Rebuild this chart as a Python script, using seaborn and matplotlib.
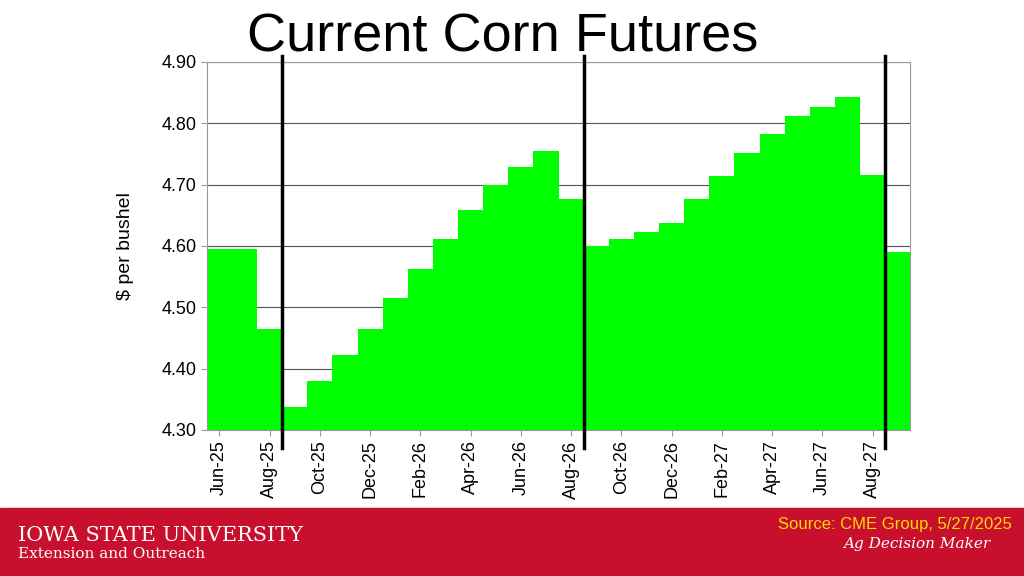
import matplotlib
matplotlib.use('Agg')
import matplotlib.pyplot as plt
import seaborn as sns
import pandas as pd

plt.rcParams['font.family'] = 'Liberation Sans'

# Monthly values, Jun-25 through Sep-27
months = ['Jun-25', 'Jul-25', 'Aug-25', 'Sep-25', 'Oct-25', 'Nov-25', 'Dec-25',
          'Jan-26', 'Feb-26', 'Mar-26', 'Apr-26', 'May-26', 'Jun-26', 'Jul-26',
          'Aug-26', 'Sep-26', 'Oct-26', 'Nov-26', 'Dec-26', 'Jan-27', 'Feb-27',
          'Mar-27', 'Apr-27', 'May-27', 'Jun-27', 'Jul-27', 'Aug-27', 'Sep-27']
prices = [4.595, 4.595, 4.465, 4.338, 4.380, 4.423, 4.465,
          4.515, 4.563, 4.612, 4.658, 4.700, 4.728, 4.755,
          4.677, 4.600, 4.612, 4.623, 4.637, 4.676, 4.714,
          4.752, 4.782, 4.812, 4.827, 4.842, 4.716, 4.590]
# crop-year dividers (between Aug and Sep)
dividers = [2.5, 14.5, 26.5]

df = pd.DataFrame({'month': months, 'price': prices})

fig = plt.figure(figsize=(10.24, 5.76), dpi=100)
ax = fig.add_axes([0.202, 0.2535, 0.687, 0.639])

sns.barplot(data=df, x='month', y='price', color='#00FF00', width=1.0,
            saturation=1, ax=ax, bottom=0)
ax.set_ylim(4.30, 4.90)
ax.set_xlim(-0.5, len(months) - 0.5)
ax.set_yticks([4.30, 4.40, 4.50, 4.60, 4.70, 4.80, 4.90])
ax.set_yticklabels([f'{v:.2f}' for v in ax.get_yticks()], fontsize=13)
ax.set_xticks(range(0, len(months), 2))
ax.set_xticklabels(months[::2], rotation=90, fontsize=13)
ax.grid(axis='y', color='#555555', linewidth=0.8)
ax.set_axisbelow(True)
for s in ax.spines.values():
    s.set_color('#999999')
ax.tick_params(length=4, color='#999999')
ax.set_xlabel('')
ax.set_ylabel('$ per bushel', fontsize=14, labelpad=20)

for d in dividers:
    ax.plot([d, d], [4.27, 4.91], color='black', linewidth=2.5, clip_on=False, zorder=5)

fig.text(0.491, 0.935, 'Current Corn Futures', ha='center', va='center', fontsize=39)

# footer band
fig.patches.append(plt.Rectangle((0, 0), 1, 0.118, transform=fig.transFigure,
                                 color='#C8102E', zorder=0))
fig.text(0.018, 0.07, 'IOWA STATE UNIVERSITY', color='white', fontsize=15,
         family='DejaVu Serif', va='center')
fig.text(0.018, 0.038, 'Extension and Outreach', color='white', fontsize=11,
         family='DejaVu Serif', va='center')
fig.text(0.988, 0.09, 'Source: CME Group, 5/27/2025', color='#FFD700',
         fontsize=12, ha='right', va='center')
fig.text(0.967, 0.055, 'Ag Decision Maker', color='white', fontsize=11,
         family='DejaVu Serif', style='italic', ha='right', va='center')

fig.savefig('out.png', dpi=100)
